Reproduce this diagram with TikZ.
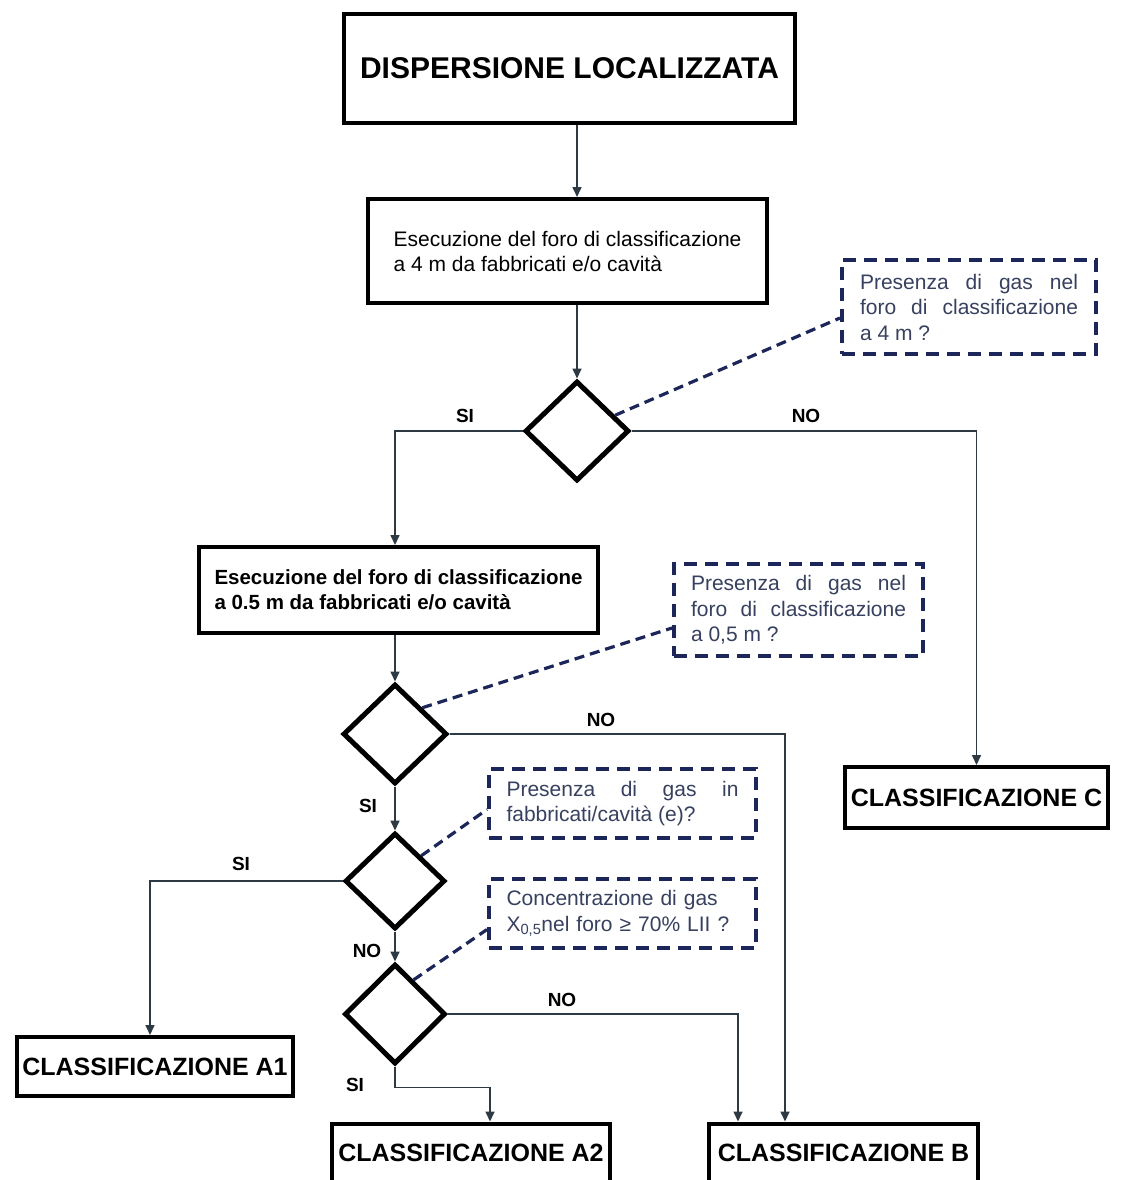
\documentclass[tikz,border=0pt]{standalone}
\usepackage{fontspec}
\setmainfont{Liberation Sans}
\usetikzlibrary{shapes.geometric,arrows.meta,calc}
\definecolor{navy}{RGB}{28,38,88}
\definecolor{qtext}{RGB}{55,65,95}
\definecolor{connc}{RGB}{45,58,68}
\begin{document}
\begin{tikzpicture}[x=1pt,y=-1pt,
 box/.style={draw=black,line width=4pt,inner sep=0pt,fill=white},
 dia/.style={diamond,draw=black,line width=5pt,inner sep=0pt},
 qbox/.style={draw=navy,line width=4pt,dash pattern=on 13pt off 8pt,inner sep=0pt,text=qtext,font=\fontsize{21}{25.5}\selectfont,align=left},
 conn/.style={draw=connc,line width=1.6pt},
 arr/.style={conn,-{Triangle[length=10pt,width=9pt]}},
 qline/.style={draw=navy,line width=3.2pt,dash pattern=on 10pt off 6pt},
 lab/.style={font=\fontsize{19}{22}\selectfont\bfseries,inner sep=0pt},
 cls/.style={box,font=\fontsize{25}{30}\selectfont\bfseries}
]
\useasboundingbox (0,0) rectangle (1129,1180);
\fill[white] (0,0) rectangle (1129,1180);

% main boxes
\node[box,minimum width=451pt,minimum height=109pt,font=\fontsize{30}{36}\selectfont\bfseries] (title) at (569.5,68.5) {DISPERSIONE LOCALIZZATA};
\node[box,minimum width=399pt,minimum height=104pt,font=\fontsize{21}{25}\selectfont,align=left] (exec1) at (567.5,251) {Esecuzione del foro di classificazione\\a 4 m da fabbricati e/o cavità};
\node[box,minimum width=399pt,minimum height=86pt,font=\fontsize{20.5}{25}\selectfont\bfseries,align=left] (exec2) at (398.5,590) {Esecuzione del foro di classificazione\\a 0.5 m da fabbricati e/o cavità};

% decisions
\node[dia,minimum width=104pt,minimum height=100pt] (d1) at (577,431) {};
\node[dia,minimum width=104pt,minimum height=100pt] (d2) at (395,734) {};
\node[dia,minimum width=100pt,minimum height=96pt] (d3) at (395,881) {};
\node[dia,minimum width=101pt,minimum height=100pt] (d4) at (395,1014) {};

% results
\node[cls,minimum width=263pt,minimum height=61pt] (classC) at (976.5,797.5) {CLASSIFICAZIONE C};
\node[cls,minimum width=276pt,minimum height=59pt] (A1) at (155,1066.5) {CLASSIFICAZIONE A1};
\node[cls,minimum width=278pt,minimum height=59pt] (A2) at (471,1153) {CLASSIFICAZIONE A2};
\node[cls,minimum width=269pt,minimum height=59pt] (B) at (843.5,1153) {CLASSIFICAZIONE B};

% question boxes
\node[qbox,minimum width=254pt,minimum height=94pt] (q1) at (969,307) {\makebox[218pt][s]{Presenza di gas nel}\\\makebox[218pt][s]{foro di classificazione}\\a 4 m ?};
\node[qbox,minimum width=249pt,minimum height=92pt] (q2) at (798.5,610) {\makebox[215pt][s]{Presenza di gas nel}\\\makebox[215pt][s]{foro di classificazione}\\a 0,5 m ?};
\node[qbox,minimum width=267pt,minimum height=69pt] (q3) at (622.5,803.5) {\makebox[232pt][s]{Presenza di gas in}\\fabbricati/cavità (e)?};
\node[qbox,minimum width=267pt,minimum height=69pt,text width=232pt] (q4) at (622.5,913.5) {Concentrazione di gas\\X\textsubscript{0,5}nel foro ≥ 70\% LII ?};

% connectors
\draw[arr] (title.south -| d1.north) -- (exec1.north -| d1.north);
\draw[arr] (exec1.south -| d1.north) -- (d1.north);
\draw[arr] (d1.west) -| (exec2.north -| d2.north);
\draw[arr] (d1.east) -| (classC.north);
\draw[arr] (exec2.south -| d2.north) -- (d2.north);
\draw[arr] (d2.east) -| ([xshift=78pt]B.north west);
\draw[arr] (d2.south) -- (d3.north);
\draw[arr] (d3.west) -| ([xshift=-5pt]A1.north);
\draw[arr] (d3.south) -- (d4.north);
\draw[arr] (d4.east) -| ([xshift=31pt]B.north west);
\draw[arr] (d4.south) -- ++(0,21) -| ([xshift=160pt]A2.north west);

% dashed links to questions
\draw[qline] ($(d1.east)!0.3!(d1.north)$) -- ($(q1.west)+(0,11)$);
\draw[qline] (d2.north east) -- ($(q2.west)+(0,18)$);
\draw[qline] (d3.north east) -- ($(q3.west)+(0,6)$);
\draw[qline] ($(d4.north)!0.35!(d4.east)$) -- ($(q4.west)+(0,16)$);

% labels
\node[lab] (l1) at (465,416) {SI};
\node[lab] (l2) at (806,416) {NO};
\node[lab] (l3) at (601,720) {NO};
\node[lab] (l4) at (368,806) {SI};
\node[lab] (l5) at (241,864) {SI};
\node[lab] (l6) at (367,951) {NO};
\node[lab] (l7) at (562,1000) {NO};
\node[lab] (l8) at (355,1085) {SI};
\end{tikzpicture}
\end{document}
